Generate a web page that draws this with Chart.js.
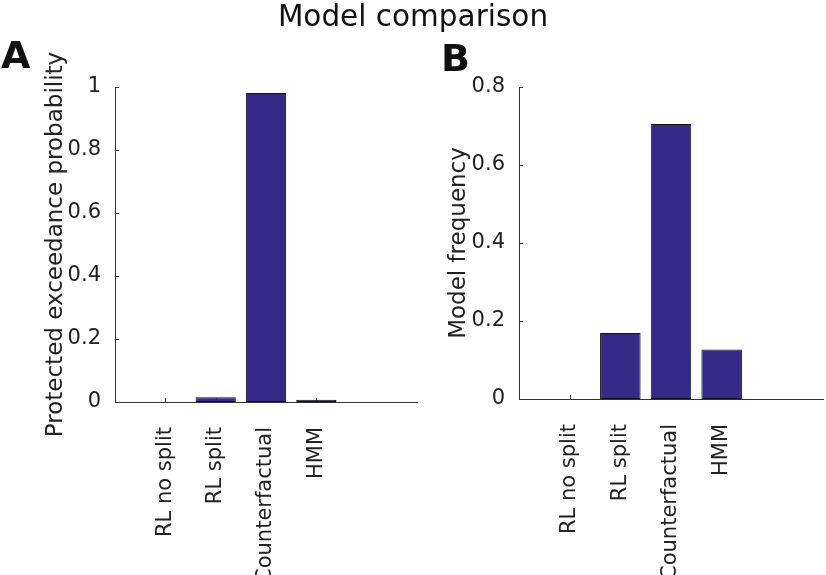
<!DOCTYPE html>
<html>
<head>
<meta charset="utf-8">
<script src="https://cdn.jsdelivr.net/npm/chart.js@4/dist/chart.umd.min.js"></script>
<style>
  body { margin: 0; background: #fff; font-family: "DejaVu Sans", sans-serif; }
  #wrap { position: relative; width: 826px; height: 575px; overflow: hidden; }
  .panel { position: absolute; top: 0; }
  .txt { position: absolute; color: #111; white-space: nowrap; }
  #title { left: 0; width: 826px; text-align: center; top: -1px; font-size: 29.5px; }
  .letter { font-weight: bold; font-size: 38px; }
</style>
</head>
<body>
<div id="wrap">
  <div class="panel" style="left:0;"><canvas id="chartA" width="420" height="575"></canvas></div>
  <div class="panel" style="left:420px;"><canvas id="chartB" width="406" height="575"></canvas></div>
  <div id="title" class="txt">Model comparison</div>
  <div class="txt letter" style="left:1px; top:33px;">A</div>
  <div class="txt letter" style="left:441px; top:36px;">B</div>
</div>
<script>
const models = ["RL no split", "RL split", "Counterfactual", "HMM"];
const modelPos = [1, 2, 3, 4];
const exceedance = [0, 0.015, 0.981, 0.007];
const frequency = [0, 0.169, 0.705, 0.127];
const exceedanceTicks = [0, 0.2, 0.4, 0.6, 0.8, 1];
const frequencyTicks = [0, 0.2, 0.4, 0.6, 0.8];

const barColor = "#352a87";
const axisColor = "#333333";
const textColor = "#222222";

// matlab style ticks pointing into the plot, under the bars
const inwardTicks = {
    id: "inwardTicks",
    beforeDatasetsDraw(chart) {
        const { ctx, chartArea, scales } = chart;
        ctx.save();
        ctx.strokeStyle = axisColor;
        ctx.lineWidth = 1;
        ctx.beginPath();
        scales.y.ticks.forEach(t => {
            const py = Math.round(scales.y.getPixelForValue(t.value)) + 0.5;
            ctx.moveTo(chartArea.left, py);
            ctx.lineTo(chartArea.left + 4, py);
        });
        scales.x.ticks.forEach(t => {
            const px = Math.round(scales.x.getPixelForValue(t.value)) + 0.5;
            ctx.moveTo(px, chartArea.bottom);
            ctx.lineTo(px, chartArea.bottom - 4);
        });
        ctx.stroke();
        ctx.restore();
    }
};

function makeChart(id, values, yTicks, yLabel, opts) {
    return new Chart(document.getElementById(id), {
        type: "bar",
        data: {
            datasets: [{
                data: modelPos.map((x, i) => ({ x, y: values[i] })),
                backgroundColor: barColor,
                borderColor: "#111111",
                borderWidth: 1,
                borderSkipped: false,
                categoryPercentage: 1,
                barPercentage: 0.8
            }]
        },
        options: {
            responsive: false,
            animation: false,
            layout: { padding: { top: 87, right: 3, left: 0, bottom: 0 } },
            plugins: { legend: { display: false }, tooltip: { enabled: false } },
            scales: {
                x: {
                    type: "linear",
                    min: 0,
                    max: 6,
                    offset: false,
                    grid: { display: false, offset: false },
                    border: { display: true, color: axisColor, width: 1 },
                    afterBuildTicks: s => { s.ticks = modelPos.map(v => ({ value: v })); },
                    afterFit: s => { s.height = opts.xHeight; },
                    ticks: {
                        autoSkip: false,
                        minRotation: 90,
                        maxRotation: 90,
                        padding: opts.xPad,
                        color: textColor,
                        font: { family: "DejaVu Sans", size: 21 },
                        callback: v => models[modelPos.indexOf(v)] || ""
                    }
                },
                y: {
                    min: 0,
                    max: yTicks[yTicks.length - 1],
                    grid: { display: false },
                    border: { display: true, color: axisColor, width: 1 },
                    afterBuildTicks: s => { s.ticks = yTicks.map(v => ({ value: v })); },
                    afterFit: s => { s.width = opts.yWidth; },
                    ticks: {
                        padding: 6,
                        color: textColor,
                        font: { family: "DejaVu Sans", size: 21 },
                        callback: v => String(+v.toFixed(1))
                    },
                    title: {
                        display: true,
                        text: yLabel,
                        color: textColor,
                        font: { family: "DejaVu Sans", size: 23 },
                        padding: { top: opts.titlePad, bottom: 0 }
                    }
                }
            }
        },
        plugins: [inwardTicks]
    });
}

makeChart("chartA", exceedance, exceedanceTicks, "Protected exceedance probability",
    { xHeight: 173, yWidth: 115, xPad: 17, titlePad: 42 });
makeChart("chartB", frequency, frequencyTicks, "Model frequency",
    { xHeight: 176, yWidth: 99, xPad: 17, titlePad: 25 });
</script>
</body>
</html>
